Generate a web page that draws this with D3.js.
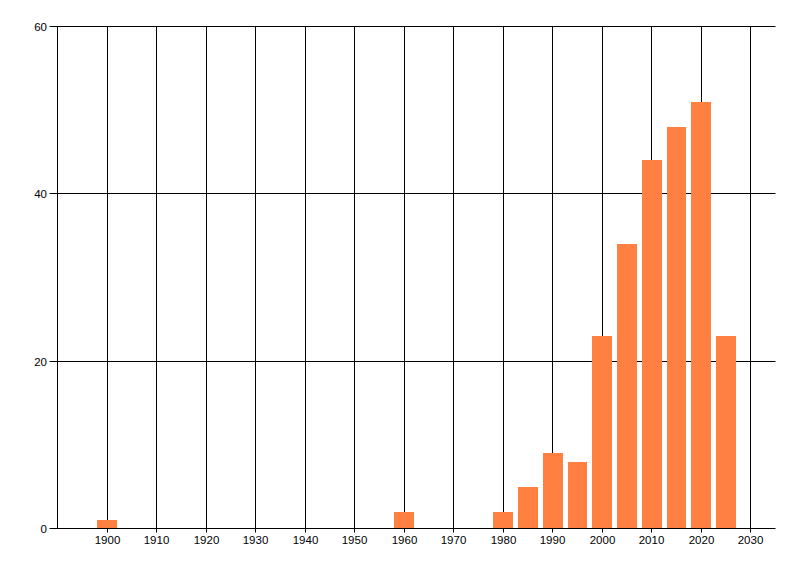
<!DOCTYPE html>
<html>
<head>
<meta charset="utf-8">
<script src="https://cdn.jsdelivr.net/npm/d3@7"></script>
<style>
    body { margin: 0; background: #fff; }
    #chart text { font-family: 'Liberation Sans', Arial, sans-serif; font-size: 11.5px; fill: #000; }
</style>
</head>
<body>
<div id="chart"></div>
<script>
// Bar data: year bins and counts
const years = [1900, 1960, 1980, 1985, 1990, 1995, 2000, 2005, 2010, 2015, 2020, 2025];
const counts = [1, 2, 2, 5, 9, 8, 23, 34, 44, 48, 51, 23];

// Axis ticks
const xTicks = [1900, 1910, 1920, 1930, 1940, 1950, 1960, 1970, 1980, 1990, 2000, 2010, 2020, 2030];
const yTicks = [0, 20, 40, 60];

const width = 800;
const height = 576;

const svg = d3.select("#chart")
    .append("svg")
    .attr("width", width)
    .attr("height", height);

const x = d3.scaleLinear().domain([1890, 2035]).range([57.5, 775.5]);
const y = d3.scaleLinear().domain([0, 60]).range([528.5, 26.5]);

// snap lines onto whole pixels
const px = v => Math.floor(v) + 0.5;

const grid = svg.append("g").attr("stroke", "#000").attr("stroke-width", 1);

// vertical grid lines at every decade
grid.selectAll("line.vgrid")
    .data(xTicks)
    .enter().append("line")
    .attr("class", "vgrid")
    .attr("x1", d => px(x(d)))
    .attr("x2", d => px(x(d)))
    .attr("y1", px(y(60)))
    .attr("y2", px(y(0)) + 4);

// horizontal grid lines, with tick stubs to the left
grid.selectAll("line.hgrid")
    .data(yTicks)
    .enter().append("line")
    .attr("class", "hgrid")
    .attr("x1", px(x(1890)) - 8)
    .attr("x2", x(2035))
    .attr("y1", d => px(y(d)))
    .attr("y2", d => px(y(d)));

// y axis line
grid.append("line")
    .attr("x1", px(x(1890)))
    .attr("x2", px(x(1890)))
    .attr("y1", px(y(60)))
    .attr("y2", px(y(0)));

// bars, 4 years wide and centred on the bin year
svg.append("g")
    .selectAll("rect")
    .data(years.map((yr, i) => ({ year: yr, count: counts[i] })))
    .enter().append("rect")
    .attr("x", d => Math.round(x(d.year - 2)))
    .attr("width", d => Math.round(x(d.year + 2)) - Math.round(x(d.year - 2)))
    .attr("y", d => Math.round(y(d.count)))
    .attr("height", d => px(y(0)) - 0.5 - Math.round(y(d.count)))
    .attr("fill", "#ff8040");

// tick labels
svg.append("g")
    .selectAll("text")
    .data(xTicks)
    .enter().append("text")
    .attr("x", d => px(x(d)))
    .attr("y", 544)
    .attr("text-anchor", "middle")
    .text(d => d);

svg.append("g")
    .selectAll("text")
    .data(yTicks)
    .enter().append("text")
    .attr("x", 47)
    .attr("y", d => px(y(d)) + 4)
    .attr("text-anchor", "end")
    .text(d => d);
</script>
</body>
</html>
